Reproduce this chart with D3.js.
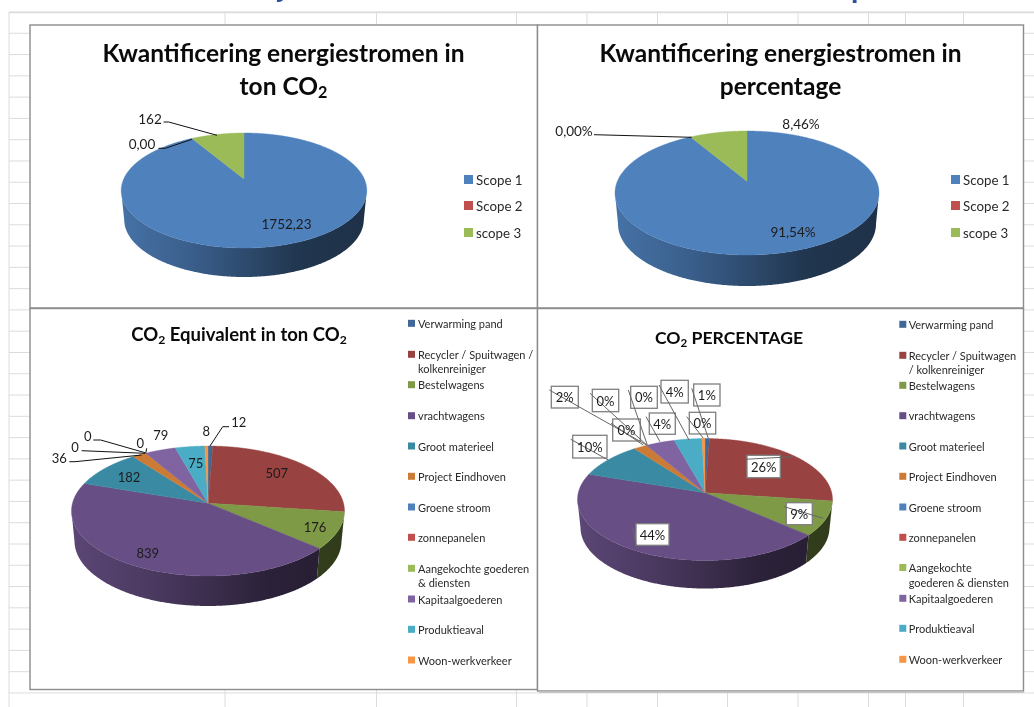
<!DOCTYPE html>
<html>
<head>
<meta charset="utf-8">
<script src="https://cdn.jsdelivr.net/npm/d3@7/dist/d3.min.js"></script>
<style>
html,body{margin:0;padding:0;background:#fff;overflow:hidden}
svg{display:block;filter:blur(0.4px)}
text{font-family:Lato,"Open Sans",sans-serif;fill:#1c1c1c}
</style>
</head>
<body>
<svg id="chart" width="1034" height="707"></svg>
<script>
// ---------- data ----------
const scopeCategories = ["Scope 1", "Scope 2", "scope 3"];
const scopeTons = [1752.23, 0, 162];
const scopeTonLabels = ["1752,23", "0,00", "162"];
const scopePercentLabels = ["91,54%", "0,00%", "8,46%"];
const scopeColors = ["#4f81bd", "#c0504d", "#9bbb59"];

const emissionCategories = ["Verwarming pand", "Recycler / Spuitwagen / kolkenreiniger", "Bestelwagens",
  "vrachtwagens", "Groot materieel", "Project Eindhoven", "Groene stroom", "zonnepanelen",
  "Aangekochte goederen & diensten", "Kapitaalgoederen", "Produktieaval", "Woon-werkverkeer"];
const emissionTons = [12, 507, 176, 839, 182, 36, 0, 0, 0, 79, 75, 8];
const emissionPercentLabels = ["1%", "26%", "9%", "44%", "10%", "2%", "0%", "0%", "0%", "4%", "4%", "0%"];
const emissionColors = ["#3f6797", "#984341", "#7e9a46", "#674f85", "#3b8aa3", "#cc7b37",
  "#4f81bd", "#c0504d", "#9bbb59", "#8064a2", "#4bacc6", "#f79646"];

// ---------- layout ----------
const svg = d3.select("#chart");
const defs = svg.append("defs");
const W = 1034, H = 707;
const gridColumns = [225, 376.5, 516.5, 587, 657.5, 727.5, 798, 868.5, 905.5, 963.5];
const gridRows = d3.range(12, 707, 21.28);

const panels = [
  {x: 30, y: 25, w: 507.5, h: 283},
  {x: 537.5, y: 25, w: 486, h: 283},
  {x: 30, y: 308.5, w: 507.5, h: 381},
  {x: 537.5, y: 308.5, w: 486, h: 382.5}
];

// grid behind the charts
const grid = svg.append("g").attr("stroke", "#dcdcdc").attr("stroke-width", 1);
grid.selectAll("line.r").data(gridRows).join("line").attr("class", "r")
  .attr("x1", 9).attr("x2", W).attr("y1", d => d).attr("y2", d => d);
grid.append("line").attr("x1", 9).attr("x2", 9).attr("y1", 12).attr("y2", H);
grid.selectAll("line.c").data(gridColumns).join("line").attr("class", "c")
  .attr("x1", d => d).attr("x2", d => d).attr("y1", 12).attr("y2", H);
grid.append("line").attr("x1", 9).attr("x2", W).attr("y1", 12.5).attr("y2", 12.5).attr("stroke-width", 1.5);

// cropped page heading: only descenders are visible
svg.append("text").attr("x", 278).attr("y", -3).attr("font-size", 30).attr("font-weight", 700)
  .style("fill", "#2b4f9e").text("j");
svg.append("text").attr("x", 851).attr("y", -2.5).attr("font-size", 30).attr("font-weight", 700)
  .style("fill", "#2b4f9e").text("p");

svg.selectAll("rect.panel").data(panels).join("rect").attr("class", "panel")
  .attr("x", d => d.x).attr("y", d => d.y).attr("width", d => d.w).attr("height", d => d.h)
  .attr("fill", "#fff").attr("stroke", "#8c8c8c").attr("stroke-width", 1.4);
svg.append("line").attr("x1", 539).attr("x2", 1024).attr("y1", 692).attr("y2", 692)
  .attr("stroke", "#bdbdbd").attr("stroke-width", 1.5);

let gradientId = 0;
function shade(color, k) {
  const c = d3.rgb(color);
  return d3.rgb(c.r * k, c.g * k, c.b * k).formatHex();
}

function drawPie(values, colors, geo) {
  const g = svg.append("g");
  const arcs = d3.pie().sort(null).value(d => d).startAngle(0).endAngle(2 * Math.PI)(values);
  const b = -geo.tilt, s = Math.sqrt(1 - b * b);
  const rim = t => {
    const x = Math.sin(t), y = -Math.cos(t), w = 1 + b * y;
    return [x * s / w, (y + b) / w];
  };
  const samples = a => d3.range(a.startAngle, a.endAngle, Math.PI / 360).concat(a.endAngle).map(rim);
  const line = d3.line();
  const xTop = d3.scaleLinear().domain([-1, 1]).range([geo.cx - geo.rx, geo.cx + geo.rx]);
  const yTop = d3.scaleLinear().domain([-1, 1]).range([geo.cy - geo.ry, geo.cy + geo.ry]);
  const xBot = d3.scaleLinear().domain([-1, 1]).range([geo.cx - geo.rx + geo.inset, geo.cx + geo.rx - geo.inset]);
  const yBot = yTop.copy().range(yTop.range().map(v => v + geo.depth));

  // side wall, for the front half of the rim only
  arcs.filter(a => a.value > 0).forEach(a => {
    const front = samples(a).filter(p => p[1] >= 0);
    if (front.length < 2) return;
    const id = "wall" + (gradientId++);
    const lg = defs.append("linearGradient").attr("id", id).attr("gradientUnits", "userSpaceOnUse")
      .attr("x1", geo.cx - geo.rx).attr("x2", geo.cx + geo.rx).attr("y1", 0).attr("y2", 0);
    const col = colors[a.index];
    [[0, .88], [.28, .74], [.5, .58], [.72, .42], [1, .38]].forEach(st =>
      lg.append("stop").attr("offset", st[0]).attr("stop-color", shade(col, st[1])));
    const outline = front.map(p => [xTop(p[0]), yTop(p[1])])
      .concat(front.slice().reverse().map(p => [xBot(p[0]), yBot(p[1])]));
    g.append("path").attr("d", line(outline) + "Z").attr("fill", `url(#${id})`);
  });

  // top faces
  arcs.filter(a => a.value > 0).forEach(a => {
    const pts = [[geo.cx, yTop(b)]].concat(samples(a).map(p => [xTop(p[0]), yTop(p[1])]));
    g.append("path").attr("d", line(pts) + "Z")
      .attr("fill", colors[a.index]).attr("stroke", colors[a.index]).attr("stroke-width", .4);
  });
}

function richText(sel, str) {
  str.split("_").forEach((part, i) => {
    if (i === 0) { sel.append("tspan").text(part); return; }
    const sub = part[0], rest = part.slice(1);
    sel.append("tspan").attr("dy", "0.22em").attr("font-size", "0.66em").text(sub);
    if (rest) sel.append("tspan").attr("dy", "-0.145em").text(rest);
  });
}

function drawTitle(lines, x, ys, size) {
  lines.forEach((t, i) => {
    const el = svg.append("text").attr("x", x).attr("y", ys[i]).attr("text-anchor", "middle")
      .attr("font-size", size).attr("font-weight", 700).style("fill", "#0a0a0a");
    richText(el, t);
  });
}

function drawLabels(texts, positions, size) {
  texts.forEach((t, i) => {
    svg.append("text").attr("x", positions[i][0]).attr("y", positions[i][1])
      .attr("text-anchor", "middle").attr("dominant-baseline", "central")
      .attr("font-size", size).text(t);
  });
}

function drawLeaders(polylines, color, width) {
  const line = d3.line();
  polylines.forEach(p => svg.append("path").attr("d", line(p)).attr("fill", "none")
    .attr("stroke", color).attr("stroke-width", width));
}

function drawLegend(names, colors, opt) {
  names.forEach((n, i) => {
    const rows = opt.wrap[i] || [n];
    svg.append("rect").attr("x", opt.sx).attr("y", opt.ys[i] - opt.ss / 2).attr("width", opt.ss).attr("height", opt.ss)
      .attr("fill", colors[i]);
    rows.forEach((r, j) => svg.append("text").attr("x", opt.tx).attr("y", opt.ys[i] + j * opt.lead)
      .attr("dominant-baseline", "central").attr("font-size", opt.size).style("fill", "#2a2a2a").text(r));
  });
}

// ---------- chart 1 ----------
drawPie(scopeTons, scopeColors, {cx: 244, cy: 190.5, rx: 122.8, ry: 57.5, tilt: .2, depth: 29, inset: 3});
drawTitle(["Kwantificering energiestromen in", "ton CO_2"], 283.5, [62, 94.5], 24.5);
drawLabels(scopeTonLabels, [[286.5, 223.5], [142, 143.8], [150, 118.5]], 13.5);
drawLeaders([
  [[163.6, 122], [168.7, 122], [217, 135.3]],
  [[158.4, 148.3], [165.3, 148.3], [191.8, 139.3]]
], "#111", 1);
drawLegend(scopeCategories, scopeColors, {sx: 464, ss: 9, tx: 476, ys: [179.5, 205.5, 232.5], lead: 0, size: 13.3, wrap: []});

// ---------- chart 2 ----------
drawPie(scopeTons, scopeColors, {cx: 747, cy: 193, rx: 132, ry: 62, tilt: .19, depth: 31, inset: 3});
drawTitle(["Kwantificering energiestromen in", "percentage"], 780.5, [62, 94.5], 24.5);
drawLabels(scopePercentLabels, [[793, 231.5], [574, 130.5], [801, 123.5]], 13.5);
drawLeaders([[[594, 134.7], [691.7, 137.3]]], "#111", 1);
drawLegend(scopeCategories, scopeColors, {sx: 951, ss: 9, tx: 963, ys: [179.5, 205.5, 232.5], lead: 0, size: 13.3, wrap: []});

// ---------- chart 3 ----------
drawPie(emissionTons, emissionColors, {cx: 208, cy: 511, rx: 136.5, ry: 65, tilt: .12, depth: 30, inset: 3});
drawTitle(["CO_2 Equivalent in ton CO_2"], 239, [341], 18.5);
drawLabels(emissionTons.map(String), [
  [238.7, 422.3], [276.7, 473.3], [315, 527.3], [147.7, 553.3], [129, 477.3], [59.3, 457.7],
  [75, 446.7], [87.7, 436], [140.3, 443.3], [160.7, 435.3], [195.7, 462.7], [206.3, 430.7]
], 13);
drawLeaders([
  [[229, 426.7], [222.7, 426.7], [210, 446]],
  [[93.3, 440], [100.7, 440], [145, 452.7]],
  [[81.7, 450.7], [145, 453.3]],
  [[69.3, 461.7], [75, 461.7], [141.7, 455]],
  [[146.7, 448.3], [145.7, 453.5]]
], "#111", 1);
drawLegend(emissionCategories, emissionColors, {
  sx: 408, ss: 7, tx: 418, lead: 14, size: 11,
  ys: [323.3, 354.3, 384.7, 415.7, 446, 476.3, 507, 537.3, 568.3, 599, 629.3, 660],
  wrap: {1: ["Recycler / Spuitwagen /", "kolkenreiniger"], 8: ["Aangekochte goederen", "& diensten"]}
});

// ---------- chart 4 ----------
drawPie(emissionTons, emissionColors, {cx: 705, cy: 499.5, rx: 127.5, ry: 61, tilt: .11, depth: 28, inset: 3});
drawTitle(["CO_2 PERCENTAGE"], 729, [344], 17.6);
const boxes = [
  [693.7, 384, 26.3, 22], [747, 455.3, 33.3, 22.4], [786.3, 502.7, 26, 22], [636, 523.7, 33, 21.6],
  [572.7, 435.3, 34.3, 22.7], [551.3, 386.3, 27, 21.7], [612.7, 419, 27.6, 22], [592.3, 389.3, 26.4, 22.4],
  [630.7, 386.3, 26.6, 22], [649.3, 413, 26, 21.3], [661, 380.3, 27.3, 22.7], [689.3, 412.3, 26.4, 21.7]
];
const boxLeaders = [
  [[691.7, 388.3], [708.3, 438.3]], [[745, 459.3], [793.3, 456.7]], [[784.3, 506.7], [823.3, 518.3]],
  [[632.7, 528.3], [636.7, 548.3]], [[570.7, 439.3], [608.3, 460]], [[549.3, 390], [646.7, 445]],
  [[611, 423.3], [643.3, 445]], [[590, 393.3], [646.7, 445]], [[628.3, 390], [647.3, 445]],
  [[646, 416.7], [660, 441.7]], [[659, 385], [689, 440]], [[686.7, 416.7], [703.3, 438.3]]
];
svg.selectAll("rect.lbl").data(boxes).join("rect").attr("class", "lbl")
  .attr("x", d => d[0]).attr("y", d => d[1]).attr("width", d => d[2]).attr("height", d => d[3])
  .attr("fill", "#fff").attr("stroke", "#7f7f7f").attr("stroke-width", 1.3);
drawLeaders(boxLeaders, "#666", 1);
drawLabels(emissionPercentLabels, boxes.map(b => [b[0] + b[2] / 2, b[1] + b[3] / 2]), 13);
drawLegend(emissionCategories, emissionColors, {
  sx: 899.3, ss: 7, tx: 908.7, lead: 14.5, size: 11,
  ys: [324.3, 355.3, 385.3, 415.7, 446, 476.3, 507, 537.3, 567.5, 598.3, 628.3, 659.3],
  wrap: {1: ["Recycler / Spuitwagen", "/ kolkenreiniger"], 8: ["Aangekochte", "goederen & diensten"]}
});
</script>
</body>
</html>
